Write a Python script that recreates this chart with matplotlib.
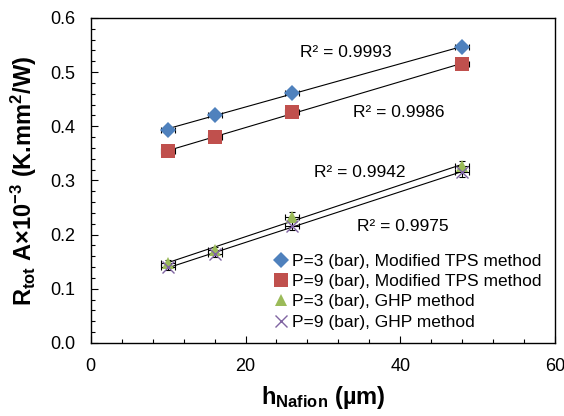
import numpy as np
import matplotlib
matplotlib.use('Agg')
import matplotlib.pyplot as plt
from matplotlib.ticker import MultipleLocator

plt.rcParams['font.family'] = ['Liberation Sans', 'DejaVu Sans']
plt.rcParams['mathtext.fontset'] = 'custom'
plt.rcParams['mathtext.rm'] = 'Liberation Sans'
plt.rcParams['mathtext.bf'] = 'Liberation Sans:bold'
plt.rcParams['mathtext.default'] = 'bf'

# thickness of Nafion layer (um)
h_nafion = [10, 16, 26, 48]
x_err = [0.9, 0.9, 0.9, 0.9]

tps_p3 = [0.393, 0.421, 0.462, 0.546]
tps_p9 = [0.354, 0.380, 0.426, 0.515]
ghp_p3 = [0.148, 0.172, 0.233, 0.327]
ghp_p9 = [0.140, 0.164, 0.216, 0.316]
y_err_tps = [0.003, 0.003, 0.003, 0.003]
y_err_ghp = [0.006, 0.006, 0.008, 0.009]

labels = ['P=3 (bar), Modified TPS method',
          'P=9 (bar), Modified TPS method',
          'P=3 (bar), GHP method',
          'P=9 (bar), GHP method']
r2_text = ['R² = 0.9993', 'R² = 0.9986', 'R² = 0.9942', 'R² = 0.9975']
r2_pos = [(27.0, 0.536), (33.9, 0.426), (28.8, 0.315), (34.4, 0.215)]

colors = ['#4F81BD', '#C0504D', '#9BBB59', '#8064A2']
markers = ['D', 's', '^', 'x']
sizes = [8, 9.5, 8.5, 9]

fig = plt.figure(figsize=(5.64, 4.16), dpi=100)
ax = fig.add_axes([0.161, 0.1755, 0.823, 0.7815])

series = [tps_p3, tps_p9, ghp_p3, ghp_p9]
yerrs = [y_err_tps, y_err_tps, y_err_ghp, y_err_ghp]
x = np.array(h_nafion)
for ys, ye, c, m, s, lab in zip(series, yerrs, colors, markers, sizes, labels):
    ys = np.array(ys)
    # linear trendline
    k, b = np.polyfit(x, ys, 1)
    ax.plot([x.min(), x.max()], [k * x.min() + b, k * x.max() + b],
            color='black', lw=0.8, zorder=2)
    ax.errorbar(x, ys, xerr=x_err, yerr=ye, fmt='none', ecolor='black',
                elinewidth=0.8, capsize=2, capthick=0.8, zorder=3)
    ax.plot(x, ys, linestyle='none', marker=m, color=c, markersize=s,
            markeredgewidth=1.0 if m == 'x' else 0, label=lab, zorder=4)

for t, (tx, ty) in zip(r2_text, r2_pos):
    ax.text(tx, ty, t, fontsize=12.5, va='center', ha='left')

ax.set_xlim(0, 60)
ax.set_ylim(0, 0.6)
ax.xaxis.set_major_locator(MultipleLocator(20))
ax.xaxis.set_minor_locator(MultipleLocator(4))
ax.yaxis.set_major_locator(MultipleLocator(0.1))
ax.yaxis.set_minor_locator(MultipleLocator(0.02))
ax.yaxis.set_major_formatter(plt.FormatStrFormatter('%.1f'))
ax.tick_params(which='both', direction='in', labelsize=13)
ax.tick_params(which='major', length=5, width=0.8, pad=11)
ax.tick_params(which='minor', length=3, width=0.8)
for sp in ax.spines.values():
    sp.set_linewidth(1.0)

ax.set_xlabel(r'h$_{Nafion}$ (µm)', fontsize=17, fontweight='bold',
              labelpad=6)
ax.set_ylabel(r'R$_{tot}$ A×10$^{-3}$ (K.mm$^{2}$/W)', fontsize=17,
              fontweight='bold', labelpad=8)

leg = ax.legend(loc='upper left', bbox_to_anchor=(0.395, 0.275), frameon=False,
                fontsize=12.5, handlelength=0.8, handletextpad=0.2,
                labelspacing=0.3, borderpad=0, borderaxespad=0)

plt.savefig('out.png', dpi=100)
